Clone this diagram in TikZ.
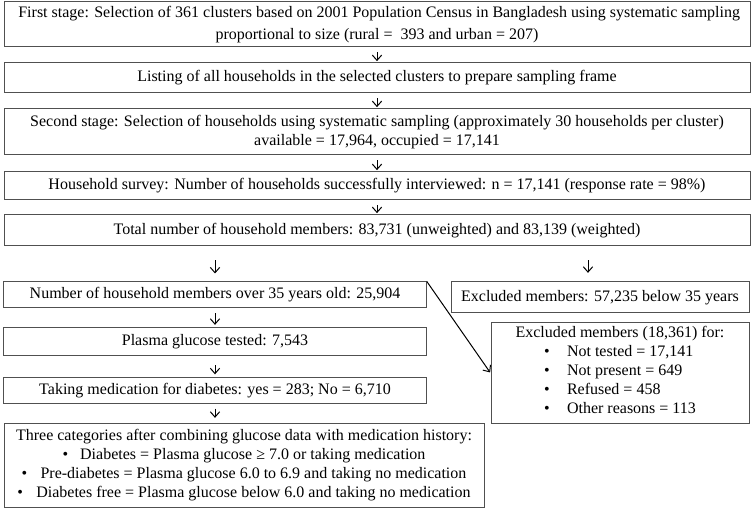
\documentclass[tikz,border=0pt]{standalone}
\usepackage{fontspec}
\setmainfont{Liberation Serif}
\usetikzlibrary{arrows.meta}

\tikzset{every picture/.style={line width=0.75pt}}
\tikzset{
  box/.style={draw={rgb, 255:red, 80; green, 80; blue, 80 }, align=center, inner sep=3pt, font=\fontsize{12}{14.4}\selectfont},
  wide/.style={box, minimum width=559.5pt},
  half/.style={box, minimum width=317pt},
  flow/.style={-{Straight Barb[length=4pt,width=7pt]}, shorten <=3.5pt, shorten >=1pt}
}

\begin{document}
\begin{tikzpicture}[x=0.75pt,y=0.75pt,yscale=-1,xscale=1]
\useasboundingbox (0,0) rectangle (753,509);
%Shape: Rectangle [id:stage1]
\node (stage1) at (377,24.5) [wide, minimum height=33.75pt] {\hbox to 538pt{\spaceskip=0.25em plus 1em\relax First stage: Selection of 361 clusters based on 2001 Population Census in Bangladesh using systematic sampling}\\[1.5pt] proportional to size (rural = \ 393 and urban = 207)};
%Shape: Rectangle [id:listing]
\node (listing) at (377,78) [wide, minimum height=22.5pt] {Listing of all households in the selected clusters to prepare sampling frame};
%Shape: Rectangle [id:stage2]
\node (stage2) at (377,132) [wide, minimum height=34.5pt] {Second stage: Selection of households using systematic sampling (approximately 30 households per cluster)\\ available = 17,964, occupied = 17,141};
%Shape: Rectangle [id:survey]
\node (survey) at (377,186) [wide, minimum height=21pt] {Household survey: Number of households successfully interviewed: n = 17,141 (response rate = 98\%)};
%Shape: Rectangle [id:total]
\node (total) at (377,230.5) [wide, minimum height=23.25pt] {Total number of household members: 83,731 (unweighted) and 83,139 (weighted)};
%Shape: Rectangle [id:over35]
\node (over35) at (215,295) [half, minimum height=19.5pt] {Number of household members over 35 years old: 25,904};
%Shape: Rectangle [id:below35]
\node (below35) at (600,297.5) [box, minimum width=223.5pt, minimum height=23.25pt] {Excluded members: 57,235 below 35 years};
%Shape: Rectangle [id:tested]
\node (tested) at (215,342) [half, minimum height=21pt] {Plasma glucose tested: 7,543};
%Shape: Rectangle [id:medic]
\node (medic) at (215,390.5) [half, minimum height=19.5pt] {Taking medication for diabetes: yes = 283; No = 6,710};
%Shape: Rectangle [id:categories]
\node (categories) at (244,465) [box, minimum width=360pt, minimum height=63pt] {Three categories after combining glucose data with medication history:\\
\textbullet\hspace{9pt}Diabetes = Plasma glucose ≥ 7.0 or taking medication\\
\textbullet\hspace{10pt}Pre-diabetes = Plasma glucose 6.0 to 6.9 and taking no medication\\
\textbullet\hspace{10pt}Diabetes free = Plasma glucose below 6.0 and taking no medication};
%Shape: Rectangle [id:excluded]
\node (excluded) at (620,373) [box, minimum width=193.5pt, minimum height=75pt] {Excluded members (18,361) for:\\
\begin{tabular}{@{}l@{\hspace{13pt}}l@{}}
\textbullet & Not tested = 17,141\\
\textbullet & Not present = 649\\
\textbullet & Refused = 458\\
\textbullet & Other reasons = 113
\end{tabular}};
%Straight Lines [id:arrows]
\draw [flow] (stage1) -- (listing);
\draw [flow] (listing) -- (stage2);
\draw [flow] (stage2) -- (survey);
\draw [flow] (survey) -- (total);
\draw [flow, shorten <=10.5pt, shorten >=6pt] (over35.north |- total.south) -- (over35.north);
\draw [flow, shorten <=10.5pt, shorten >=6.5pt] ([xshift=-9pt]below35.north |- total.south) -- ([xshift=-9pt]below35.north);
\draw [flow, shorten >=2pt] (over35) -- (tested);
\draw [flow, shorten <=6.5pt, shorten >=2pt] (tested) -- (medic);
\draw [flow, shorten >=3.5pt] (medic) -- (medic |- categories.north);
\draw [-{Straight Barb[length=4pt,width=7pt]}, shorten >=0.5pt] (over35.north east) -- (excluded.west);
\end{tikzpicture}
\end{document}
